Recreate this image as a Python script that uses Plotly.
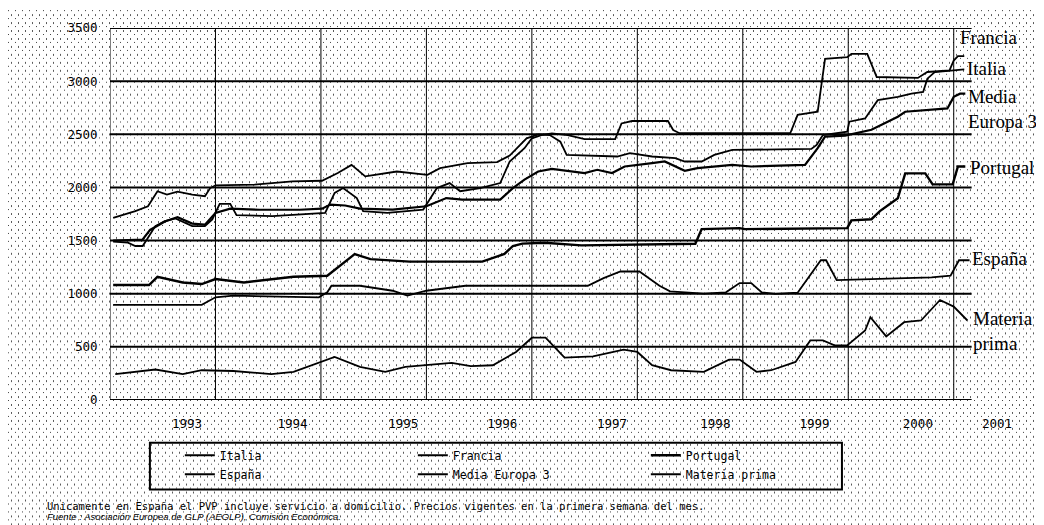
import base64
import struct
import zlib

import numpy as np
import plotly.graph_objects as go

# ---------------- data (decimal year, value) ----------------
italia_x = [1993.03, 1993.24, 1993.36, 1993.45, 1993.54, 1993.64, 1993.78, 1993.90, 1993.95, 1994.00,
            1994.37, 1994.73, 1995.01, 1995.16, 1995.29, 1995.42, 1995.72, 1996.01, 1996.13, 1996.39,
            1996.67, 1996.79, 1996.95, 1997.06, 1997.17, 1997.27, 1997.33, 1997.81, 1997.93, 1998.14,
            1998.36, 1998.45, 1998.61, 1998.73, 1998.90, 1999.65, 1999.70, 1999.76, 1999.99, 2000.01,
            2000.16, 2000.28, 2000.47, 2000.60, 2000.71, 2000.75, 2000.82, 2000.96, 2001.04, 2001.10]
italia_y = [1714, 1777, 1823, 1964, 1932, 1960, 1932, 1917, 1994, 2020,
            2026, 2057, 2063, 2135, 2212, 2104, 2150, 2119, 2181, 2228,
            2238, 2300, 2462, 2500, 2493, 2431, 2306, 2291, 2322, 2291,
            2275, 2244, 2244, 2306, 2353, 2362, 2400, 2493, 2525, 2618,
            2649, 2821, 2852, 2882, 2898, 3023, 3086, 3101, 3110, 3110]

francia_x = [1993.03, 1993.17, 1993.24, 1993.31, 1993.36, 1993.43, 1993.52, 1993.62, 1993.78, 1993.90,
             1993.97, 1994.04, 1994.14, 1994.20, 1994.54, 1994.85, 1995.04, 1995.13, 1995.21, 1995.34,
             1995.40, 1995.63, 1995.97, 1996.10, 1996.22, 1996.32, 1996.51, 1996.70, 1996.79, 1996.93,
             1997.00, 1997.09, 1997.19, 1997.34, 1997.50, 1997.79, 1997.85, 1997.95, 1998.29, 1998.34,
             1998.40, 1999.45, 1999.52, 1999.71, 1999.75, 1999.78, 1999.99, 2000.03, 2000.18, 2000.27,
             2000.66, 2000.75, 2000.96, 2001.00, 2001.04, 2001.10]
francia_y = [1490, 1480, 1449, 1449, 1527, 1636, 1683, 1708, 1636, 1636,
             1699, 1845, 1845, 1739, 1730, 1751, 1760, 1948, 1994, 1900,
             1777, 1760, 1792, 1994, 2041, 1964, 1994, 2041, 2244, 2369,
             2462, 2493, 2509, 2493, 2455, 2455, 2602, 2625, 2625, 2540,
             2510, 2510, 2683, 2712, 3023, 3210, 3226, 3256, 3256, 3039,
             3030, 3086, 3101, 3194, 3235, 3235]

portugal_x = [1993.03, 1993.37, 1993.45, 1993.69, 1993.87, 1994.00, 1994.27, 1994.74, 1995.06, 1995.32,
              1995.47, 1995.84, 1996.53, 1996.74, 1996.82, 1996.91, 1997.12, 1997.47, 1998.55, 1998.61,
              1998.97, 1999.02, 1999.99, 2000.03, 2000.22, 2000.30, 2000.47, 2000.54, 2000.73, 2000.80,
              2000.99, 2001.04, 2001.11]
portugal_y = [1082, 1082, 1159, 1106, 1091, 1138, 1106, 1159, 1169, 1372,
              1325, 1302, 1302, 1374, 1449, 1471, 1480, 1455, 1470, 1608,
              1617, 1608, 1617, 1690, 1701, 1777, 1898, 2132, 2132, 2029,
              2029, 2197, 2197]

espana_x = [1993.03, 1993.87, 1994.00, 1994.17, 1994.98, 1995.06, 1995.10, 1995.37, 1995.68, 1995.82,
            1996.00, 1996.37, 1997.53, 1997.68, 1997.84, 1998.02, 1998.21, 1998.31, 1998.63, 1998.84,
            1998.97, 1999.08, 1999.18, 1999.31, 1999.52, 1999.74, 1999.79, 1999.89, 2000.79, 2000.97,
            2001.05, 2001.15]
espana_y = [895, 895, 966, 982, 966, 1013, 1075, 1075, 1028, 982,
            1028, 1075, 1075, 1147, 1209, 1209, 1075, 1022, 1000, 1013,
            1100, 1100, 1013, 998, 1010, 1315, 1315, 1128, 1153, 1169,
            1315, 1315]

media_x = [1993.03, 1993.31, 1993.38, 1993.52, 1993.64, 1993.78, 1993.90, 1994.00, 1994.14, 1994.42,
           1994.80, 1995.01, 1995.09, 1995.23, 1995.37, 1995.68, 1996.00, 1996.19, 1996.34, 1996.70,
           1996.82, 1996.93, 1997.06, 1997.19, 1997.50, 1997.62, 1997.76, 1997.88, 1998.14, 1998.26,
           1998.45, 1998.57, 1998.90, 1999.08, 1999.59, 1999.71, 1999.78, 1999.97, 2000.22, 2000.47,
           2000.54, 2000.75, 2000.94, 2001.00, 2001.06, 2001.11]
media_y = [1500, 1510, 1600, 1680, 1720, 1660, 1650, 1760, 1800, 1790,
           1790, 1800, 1839, 1830, 1800, 1792, 1823, 1900, 1886, 1886,
           1994, 2073, 2150, 2175, 2135, 2166, 2135, 2197, 2228, 2244,
           2157, 2181, 2212, 2197, 2212, 2369, 2478, 2487, 2543, 2665,
           2712, 2727, 2743, 2852, 2882, 2882]

materia_x = [1993.05, 1993.43, 1993.69, 1993.87, 1994.17, 1994.53, 1994.74, 1995.13, 1995.37, 1995.61,
             1995.80, 1996.00, 1996.24, 1996.42, 1996.63, 1996.85, 1997.00, 1997.13, 1997.31, 1997.58,
             1997.87, 1998.00, 1998.14, 1998.32, 1998.63, 1998.87, 1998.97, 1999.13, 1999.27, 1999.50,
             1999.64, 1999.76, 1999.87, 1999.99, 2000.16, 2000.21, 2000.36, 2000.53, 2000.69, 2000.87,
             2001.00, 2001.13]
materia_y = [243, 287, 243, 280, 273, 243, 265, 405, 311, 265,
             311, 327, 349, 318, 327, 452, 586, 586, 399, 411,
             474, 452, 327, 280, 265, 380, 380, 265, 280, 358,
             561, 561, 514, 514, 654, 779, 598, 732, 748, 941,
             879, 748]

# axis ticks / labels
y_ticks = [0, 500, 1000, 1500, 2000, 2500, 3000, 3500]
y_tick_labels = ["0", "500", "1000", "1500", "2000", "2500", "3000", "3500"]
year_bounds = [1993, 1994, 1995, 1996, 1997, 1998, 1999, 2000, 2001]
year_labels = ["1993", "1994", "1995", "1996", "1997", "1998", "1999", "2000", "2001"]
year_label_pos = [1993.73, 1994.73, 1995.78, 1996.72, 1997.76, 1998.74, 1999.68, 2000.66, 2001.41]

# right-hand series labels
end_labels = ["Francia", "Italia", "Media<br>Europa 3", "Portugal", "España", "Materia<br>prima"]
end_label_vals = [3413, 3123, 2739, 2188, 1328, 645]
end_label_x = [2001.04, 2001.11, 2001.12, 2001.14, 2001.15, 2001.16]

series = [
    ("Italia", italia_x, italia_y, 1.8),
    ("Francia", francia_x, francia_y, 1.8),
    ("Portugal", portugal_x, portugal_y, 2.4),
    ("España", espana_x, espana_y, 1.8),
    ("Media Europa 3", media_x, media_y, 2.2),
    ("Materia prima", materia_x, materia_y, 1.8),
]

# ---------------- dotted pattern fill (chart-area background texture) ----------------
W, H = 1044, 525
tex = np.full((H, W), 255, dtype=np.uint8)
tex[0::8, 0::7] = 70
tex[4::8, 3::7] = 90
tex[5::8, 3::7] = 90


def _chunk(tag, data):
    c = struct.pack(">I", len(data)) + tag + data
    return c + struct.pack(">I", zlib.crc32(tag + data) & 0xFFFFFFFF)


raw = b"".join(b"\x00" + tex[r].tobytes() for r in range(H))
png = (b"\x89PNG\r\n\x1a\n" + _chunk(b"IHDR", struct.pack(">IIBBBBB", W, H, 8, 0, 0, 0, 0))
       + _chunk(b"IDAT", zlib.compress(raw, 9)) + _chunk(b"IEND", b""))
tex_uri = "data:image/png;base64," + base64.b64encode(png).decode()

fig = go.Figure()
for name, xs, ys, w in series:
    fig.add_trace(go.Scatter(x=xs, y=ys, mode="lines", name=name,
                             line=dict(color="black", width=w)))

x_range = [1993, 2001.6]
grid_end = 2001.17

ML, MR, MT, MB = 102, 35, 18, 133
plot_w = W - ML - MR
plot_h = H - MT - MB

shapes = []
for v in y_ticks:
    shapes.append(dict(type="line", xref="x", yref="y", x0=year_bounds[0], x1=grid_end,
                       y0=v, y1=v, line=dict(color="black", width=2), layer="below"))
for yb in year_bounds:
    shapes.append(dict(type="line", xref="x", yref="y", x0=yb, x1=yb,
                       y0=y_ticks[0], y1=y_ticks[-1], line=dict(color="black", width=1), layer="below"))
# legend frame
shapes.append(dict(type="rect", xref="paper", yref="paper", x0=0.044, x1=0.807, y0=-0.2406, y1=-0.115,
                   line=dict(color="black", width=2), fillcolor="rgba(0,0,0,0)", layer="below"))

annotations = []
for txt, v, xx in zip(end_labels, end_label_vals, end_label_x):
    annotations.append(dict(x=xx, y=v, xref="x", yref="y", text=txt, showarrow=False,
                            xanchor="left", yanchor="middle", align="left",
                            font=dict(family="Liberation Serif", size=19, color="black")))

annotations.append(dict(x=-0.072, y=-0.286, xref="paper", yref="paper", xanchor="left", yanchor="middle",
                        showarrow=False, align="left",
                        text="Unicamente en España el PVP incluye servicio a domicilio. Precios vigentes en la primera semana del mes.",
                        font=dict(family="DejaVu Sans Mono", size=10.5, color="black")))
annotations.append(dict(x=-0.072, y=-0.313, xref="paper", yref="paper", xanchor="left", yanchor="middle",
                        showarrow=False, align="left",
                        text="<i>Fuente : Asociación Europea de GLP (AEGLP), Comisión Económica.</i>",
                        font=dict(family="Liberation Sans", size=9.5, color="black")))

fig.update_layout(
    width=W, height=H,
    margin=dict(l=ML, r=MR, t=MT, b=MB),
    paper_bgcolor="white", plot_bgcolor="rgba(0,0,0,0)",
    font=dict(family="Liberation Sans", color="black"),
    images=[dict(source=tex_uri, xref="paper", yref="paper",
                 x=-ML / plot_w, y=1 + MT / plot_h, sizex=W / plot_w, sizey=H / plot_h,
                 xanchor="left", yanchor="top", sizing="stretch", layer="below")],
    xaxis=dict(range=x_range, tickvals=year_label_pos, ticktext=year_labels,
               showgrid=False, zeroline=False, showline=False,
               ticks="outside", ticklen=12, tickcolor="rgba(0,0,0,0)",
               tickfont=dict(family="DejaVu Sans Mono", size=12.5, color="black")),
    yaxis=dict(range=[0, 3500], tickvals=y_ticks, ticktext=y_tick_labels,
               showgrid=False, zeroline=False, showline=False,
               ticks="outside", ticklen=9, tickcolor="rgba(0,0,0,0)",
               tickfont=dict(family="DejaVu Sans Mono", size=12.5, color="black")),
    shapes=shapes,
    annotations=annotations,
    showlegend=True,
    legend=dict(orientation="h", x=0.077, y=-0.1096, xanchor="left", yanchor="top",
                bgcolor="rgba(0,0,0,0)", borderwidth=0,
                entrywidth=188, entrywidthmode="pixels",
                font=dict(family="DejaVu Sans Mono", size=11.5, color="black"),
                traceorder="normal"),
)

fig.write_html("out.html")
